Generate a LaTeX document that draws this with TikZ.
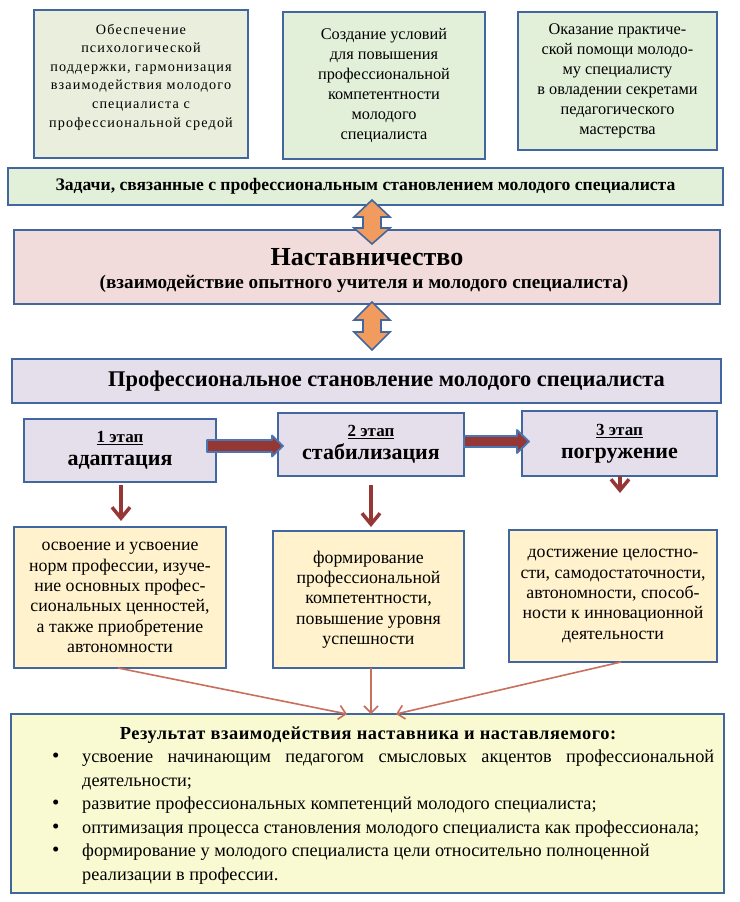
\documentclass[tikz,border=0pt]{standalone}
\usepackage{fontspec}
\setmainfont{Liberation Serif}
\newfontfamily\spacedfont[LetterSpace=8]{Liberation Serif}
\newfontfamily\titlefont[LetterSpace=3]{Liberation Serif}
\usetikzlibrary{arrows.meta,calc}
\definecolor{bord}{HTML}{41679E}
\definecolor{greyg}{HTML}{EAEEDD}
\definecolor{lgreen}{HTML}{E2EFD9}
\definecolor{pinkf}{HTML}{F2DCDB}
\definecolor{lavf}{HTML}{E5DFEC}
\definecolor{yelf}{HTML}{FFF2CC}
\definecolor{resf}{HTML}{FAFAD2}
\definecolor{orangef}{HTML}{F29B5E}
\definecolor{darkred}{HTML}{953735}
\definecolor{thinred}{HTML}{C8705C}
\definecolor{arrbord}{HTML}{4A77B4}
\newcommand{\bigbul}{{\fontsize{21}{23.5}\selectfont\textbullet}}
\tikzset{
  box/.style={draw=bord, line width=1.8pt, inner sep=0pt, align=center},
  downarr/.style={draw=darkred, line width=3.5pt, -{Straight Barb[length=11pt,width=18pt]}},
  thinarr/.style={draw=thinred, line width=1.6pt, -{Straight Barb[length=7pt,width=14pt]}},
  fatarr/.style={fill=darkred, draw=arrbord, line width=1.8pt, line join=round},
  dblarr/.style={fill=orangef, draw=bord, line width=1.6pt, line join=miter}
}
\begin{document}
\begin{tikzpicture}[x=1pt,y=-1pt]
\useasboundingbox (0,0) rectangle (739,902);
\fill[white] (0,0) rectangle (739,902);
% top boxes
\node[box, fill=greyg, minimum width=214pt, minimum height=148pt] (t1) at (141,84) {};
\node[align=center, inner sep=0pt, font=\spacedfont\fontsize{14.2}{18.6}\selectfont] (t1txt) at (141,77)
 {Обеспечение\\психологической\\поддержки, гармонизация\\взаимодействия молодого\\специалиста с\\профессиональной средой};
\node[box, fill=lgreen, minimum width=202pt, minimum height=147pt, font=\fontsize{16.3}{20}\selectfont] (t2) at (384,85.5)
 {Создание условий\\для повышения\\профессиональной\\компетентности\\молодого\\специалиста};
\node[box, fill=lgreen, minimum width=199pt, minimum height=138pt, font=\fontsize{16.3}{20}\selectfont] (t3) at (617.5,81)
 {Оказание практиче-\\ской помощи молодо-\\му специалисту\\в овладении секретами\\педагогического\\мастерства};
\node[box, fill=lgreen, minimum width=715pt, minimum height=37pt, font=\bfseries\fontsize{17.6}{20}\selectfont] (tasks) at (365.5,186.5)
 {Задачи, связанные с профессиональным становлением молодого специалиста};
% mentor
\node[box, fill=pinkf, minimum width=706pt, minimum height=74pt] (mentor) at (367,267) {};
\node[inner sep=0pt, font=\bfseries\fontsize{26}{30}\selectfont] (mtitle) at (367,257) {Наставничество};
\node[inner sep=0pt, font=\bfseries\fontsize{19.2}{22}\selectfont] (msub) at (364,284) {(взаимодействие опытного учителя и молодого специалиста)};
% professional
\node[box, fill=lavf, minimum width=709pt, minimum height=44pt, font=\bfseries\fontsize{22.4}{26}\selectfont] (prof) at (366.5,381)
 {\hspace*{40pt}Профессиональное становление молодого специалиста};
% stages
\tikzset{stage/.style={box, fill=lavf, minimum height=63pt, font=\bfseries\fontsize{22}{23}\selectfont}}
\node[stage, minimum width=192pt] (s1) at (120,450.5) {{\fontsize{17}{23}\selectfont\underline{1 этап}}\\адаптация};
\node[stage, minimum width=186pt] (s2) at (371,444.5) {{\fontsize{17}{23}\selectfont\underline{2 этап}}\\стабилизация};
\node[stage, minimum width=195pt, minimum height=65pt] (s3) at (619.5,443.5) {{\fontsize{17}{23}\selectfont\underline{3 этап}}\\погружение};
% yellow boxes
\tikzset{ybox/.style={box, fill=yelf, font=\fontsize{17.8}{20.3}\selectfont}}
\node[ybox, minimum width=212pt, minimum height=141pt] (yA) at (120,597.5)
 {освоение и усвоение\\норм профессии, изуче-\\ние основных профес-\\сиональных ценностей,\\а также приобретение\\автономности};
\node[ybox, minimum width=191pt, minimum height=137pt] (yB) at (368.5,599.5)
 {формирование\\профессиональной\\компетентности,\\повышение уровня\\успешности};
\node[ybox, minimum width=208pt, minimum height=132pt] (yC) at (613,596)
 {достижение целостно-\\сти, самодостаточности,\\автономности, способ-\\ности к инновационной\\деятельности};
% result
\node[box, fill=resf, minimum width=713pt, minimum height=179pt] (res) at (367.5,803.5) {};
\node[inner sep=0pt, font=\titlefont\bfseries\fontsize{18.4}{22}\selectfont] (rtitle) at (368,735) {Результат взаимодействия наставника и наставляемого:};
\node[anchor=north west, inner sep=0pt, font=\fontsize{18.3}{23.5}\selectfont] (rlist) at (52,746)
 {\begin{tabular}{@{}p{30pt}@{}l@{}}
 \bigbul & \makebox[632pt][s]{усвоение начинающим педагогом смысловых акцентов профессиональной}\\
  & деятельности;\\
 \bigbul & развитие профессиональных компетенций молодого специалиста;\\
 \bigbul & оптимизация процесса становления молодого специалиста как профессионала;\\
 \bigbul & формирование у молодого специалиста цели относительно полноценной\\
  & реализации в профессии.
 \end{tabular}};
% double arrows
\draw[dblarr] (372,200) -- (390,217) -- (381,217) -- (381,228) -- (390,228) -- (372,244)
  -- (354,228) -- (363,228) -- (363,217) -- (354,217) -- cycle;
\draw[dblarr] (372,302) -- (390,320) -- (381,320) -- (381,332) -- (390,332) -- (372,350)
  -- (354,332) -- (363,332) -- (363,320) -- (354,320) -- cycle;
% fat right arrows
\draw[fatarr] (207,440) -- (272,440) -- (272,435.5) -- (283,446) -- (272,456.5) -- (272,452) -- (207,452) -- cycle;
\draw[fatarr] (464,436) -- (517,436) -- (517,430) -- (529,441.5) -- (517,453) -- (517,447) -- (464,447) -- cycle;
% down arrows
\draw[downarr] (121,485) -- (121,521);
\draw[downarr] (371,485) -- (371,527);
\draw[downarr] (620,476) -- (620,493);
% thin arrows
\draw[thinarr] (118,668) -- (347,714);
\draw[thinarr] (371,668) -- (371,714);
\draw[thinarr] (621,662) -- (396,714);
\end{tikzpicture}
\end{document}
